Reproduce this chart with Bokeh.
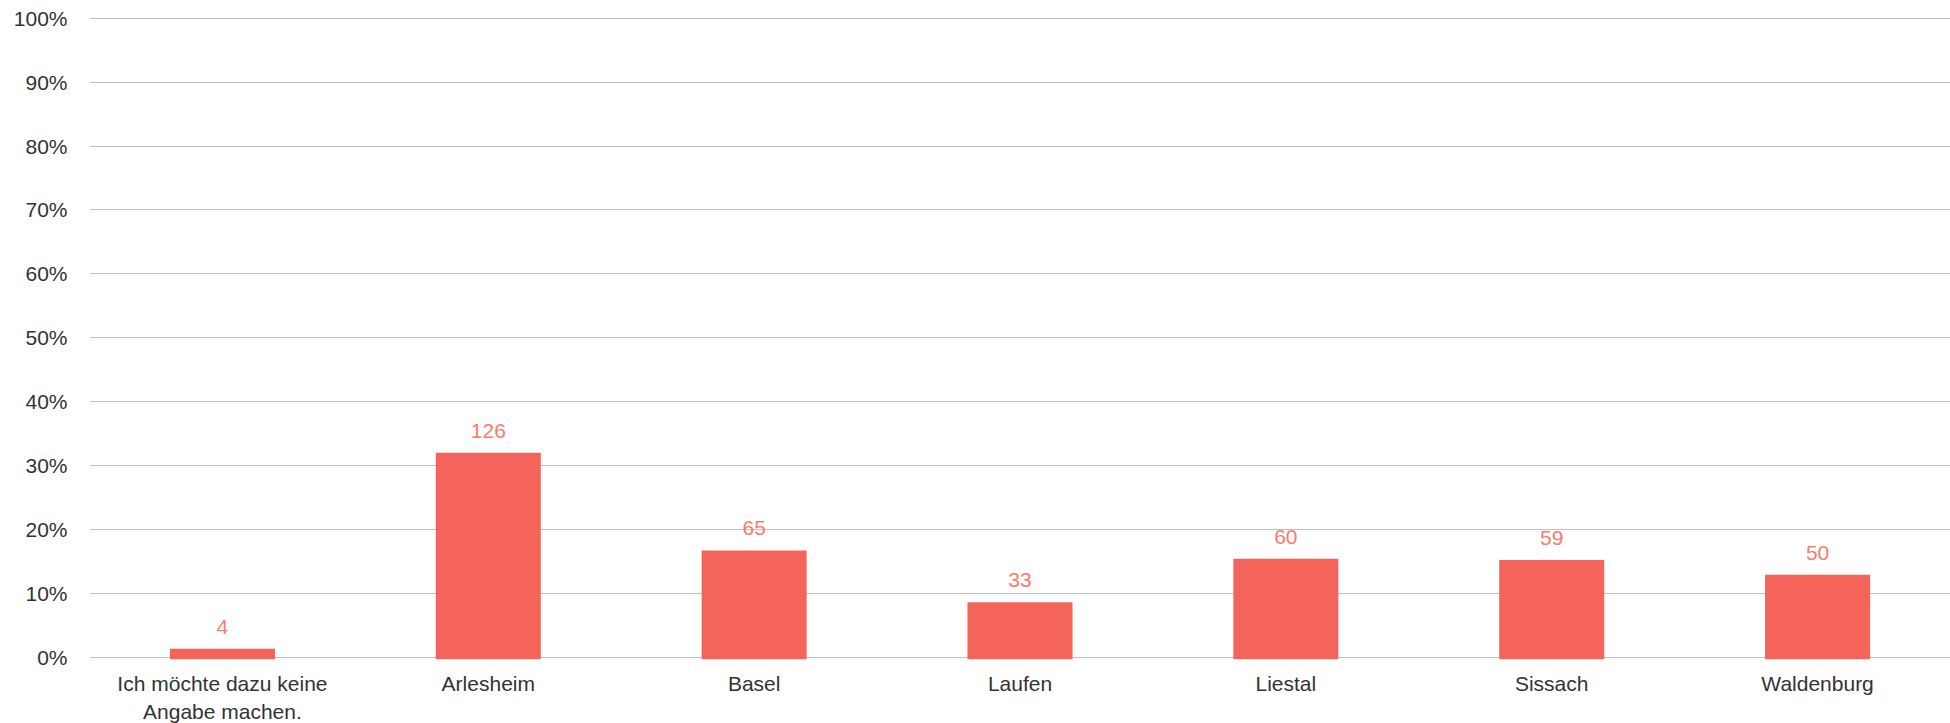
from bokeh.plotting import figure
from bokeh.models import ColumnDataSource, FactorRange, Range1d, FixedTicker, PrintfTickFormatter
from bokeh.core.properties import value
from bokeh.embed import file_html
from bokeh.resources import INLINE

categories = ["Ich möchte dazu keine\nAngabe machen.", "Arlesheim", "Basel", "Laufen",
              "Liestal", "Sissach", "Waldenburg"]
counts = [4, 126, 65, 33, 60, 59, 50]
percents = [1.0, 31.7, 16.4, 8.3, 15.1, 14.9, 12.6]
y_ticks = [0, 10, 20, 30, 40, 50, 60, 70, 80, 90, 100]

BAR = "#F5645A"
LABEL = "#F87B70"
FONT = "Liberation Sans"

src = ColumnDataSource(dict(cat=categories, pct=percents,
                            lbl=[str(c) for c in counts],
                            zero=[0] * len(categories)))

p = figure(width=1950, height=723, x_range=FactorRange(*categories, range_padding=0),
           y_range=Range1d(-10.375, 102.77), output_backend="svg", toolbar_location=None,
           min_border_left=89, min_border_right=0, min_border_top=0, min_border_bottom=0)
p.outline_line_color = None
p.background_fill_color = "white"
p.border_fill_color = "white"

p.vbar(x="cat", top="pct", bottom=0, width=0.38, source=src,
       fill_color=BAR, line_color=BAR, line_width=4, line_join="miter")

p.text(x="cat", y="pct", text="lbl", source=src, y_offset=-24,
       text_align="center", text_baseline="middle", text_color=LABEL,
       text_font=value(FONT), text_font_size="21px")

p.text(x="cat", y="zero", text="cat", source=src, y_offset=15,
       text_align="center", text_baseline="top", text_color="#333333",
       text_font=value(FONT), text_font_size="21px", text_line_height=1.2)

p.xaxis.visible = False
p.xgrid.grid_line_color = None
p.ygrid.ticker = FixedTicker(ticks=y_ticks)
p.ygrid.grid_line_color = "#c2c2c2"
p.ygrid.grid_line_width = 1.2

ya = p.yaxis[0]
ya.ticker = FixedTicker(ticks=y_ticks)
ya.formatter = PrintfTickFormatter(format="%d%%")
ya.axis_line_color = None
ya.major_tick_line_color = None
ya.minor_tick_line_color = None
ya.major_label_standoff = 16
ya.major_label_text_font = FONT
ya.major_label_text_font_size = "21px"
ya.major_label_text_color = "#333333"

open("out.html", "w").write(file_html(p, INLINE))
